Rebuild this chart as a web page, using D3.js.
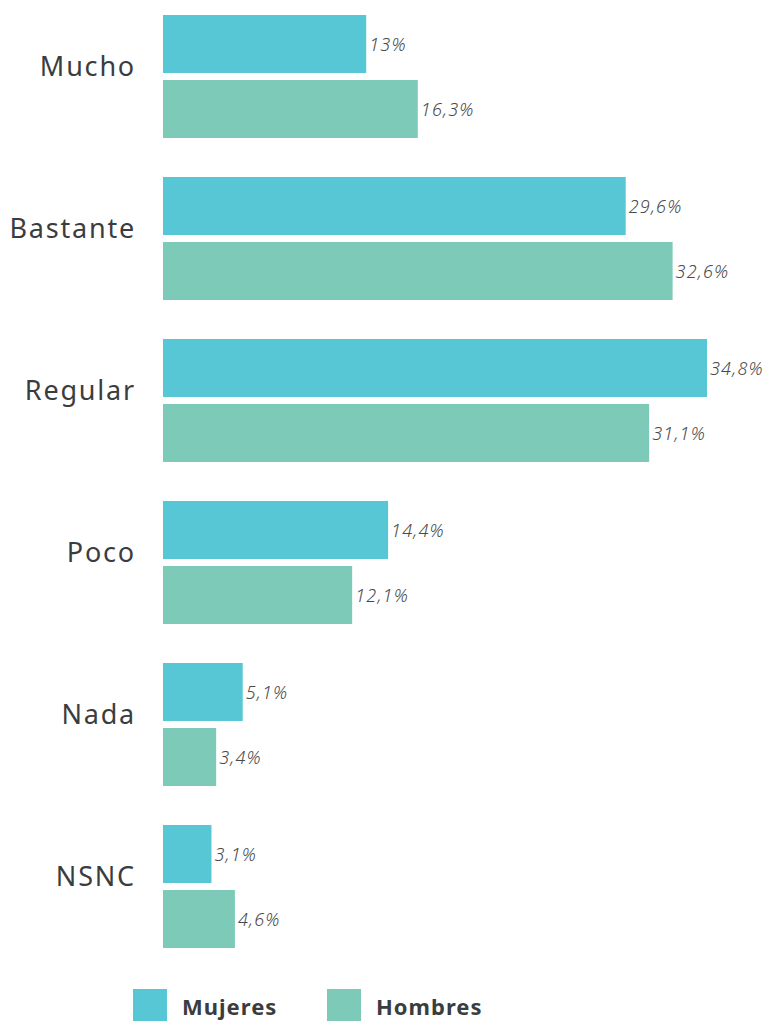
<!DOCTYPE html>
<html>
<head>
<meta charset="utf-8">
<script src="https://cdn.jsdelivr.net/npm/d3@7"></script>
<style>
html,body{margin:0;padding:0;background:#fff;}
svg{display:block;}
</style>
</head>
<body>
<svg id="chart" width="769" height="1021"></svg>
<script>
const categories = ["Mucho", "Bastante", "Regular", "Poco", "Nada", "NSNC"];
const seriesNames = ["Mujeres", "Hombres"];
const mujeres = [13, 29.6, 34.8, 14.4, 5.1, 3.1];
const hombres = [16.3, 32.6, 31.1, 12.1, 3.4, 4.6];
const valueLabelsMujeres = ["13%", "29,6%", "34,8%", "14,4%", "5,1%", "3,1%"];
const valueLabelsHombres = ["16,3%", "32,6%", "31,1%", "12,1%", "3,4%", "4,6%"];
const colors = ["#58C7D5", "#7DCAB8"];

const rows = categories.map((c, i) => ({
  cat: c,
  vals: [
    {s: seriesNames[0], v: mujeres[i], label: valueLabelsMujeres[i]},
    {s: seriesNames[1], v: hombres[i], label: valueLabelsHombres[i]}
  ]
}));

const svg = d3.select("#chart");
const textColor = "#3a3d40";
const fontFam = "'Noto Sans', 'Open Sans', sans-serif";

const x = d3.scaleLinear().domain([0, 34.8]).range([163, 707]);
const y = d3.scaleBand().domain(categories).range([15, 948]).paddingInner(39/162).paddingOuter(0);
const ySub = d3.scaleBand().domain(seriesNames).range([0, y.bandwidth()]).paddingInner(7/65).paddingOuter(0);
const color = d3.scaleOrdinal().domain(seriesNames).range(colors);

const g = svg.selectAll("g.cat").data(rows).join("g")
  .attr("class", "cat")
  .attr("transform", d => `translate(0,${y(d.cat)})`);

g.selectAll("rect").data(d => d.vals).join("rect")
  .attr("x", x(0))
  .attr("y", d => ySub(d.s))
  .attr("width", d => x(d.v) - x(0))
  .attr("height", ySub.bandwidth())
  .attr("fill", d => color(d.s));

g.selectAll("text.val").data(d => d.vals).join("text")
  .attr("class", "val")
  .attr("x", d => x(d.v) + 3)
  .attr("y", d => ySub(d.s) + ySub.bandwidth() / 2)
  .attr("dominant-baseline", "central")
  .attr("font-family", fontFam)
  .attr("font-style", "italic")
  .attr("font-weight", 300)
  .attr("font-size", 18)
  .attr("letter-spacing", 1.2)
  .attr("fill", "#4a4a4a")
  .text(d => d.label);

g.append("text")
  .attr("class", "cat-label")
  .attr("x", 136)
  .attr("y", y.bandwidth() / 2 - 11)
  .attr("text-anchor", "end")
  .attr("dominant-baseline", "central")
  .attr("font-family", fontFam)
  .attr("font-size", 27)
  .attr("letter-spacing", 1.8)
  .attr("fill", textColor)
  .text(d => d.cat);

// legend
const legendX = [133, 327];
const lg = svg.selectAll("g.legend").data(seriesNames).join("g")
  .attr("class", "legend")
  .attr("transform", (d, i) => `translate(${legendX[i]},989)`);
lg.append("rect")
  .attr("width", 34).attr("height", 33)
  .attr("fill", d => color(d));
lg.append("text")
  .attr("x", 49).attr("y", 17)
  .attr("dominant-baseline", "central")
  .attr("font-family", fontFam)
  .attr("font-weight", "bold")
  .attr("font-size", 22)
  .attr("letter-spacing", 1)
  .attr("fill", textColor)
  .text(d => d);
</script>
</body>
</html>
